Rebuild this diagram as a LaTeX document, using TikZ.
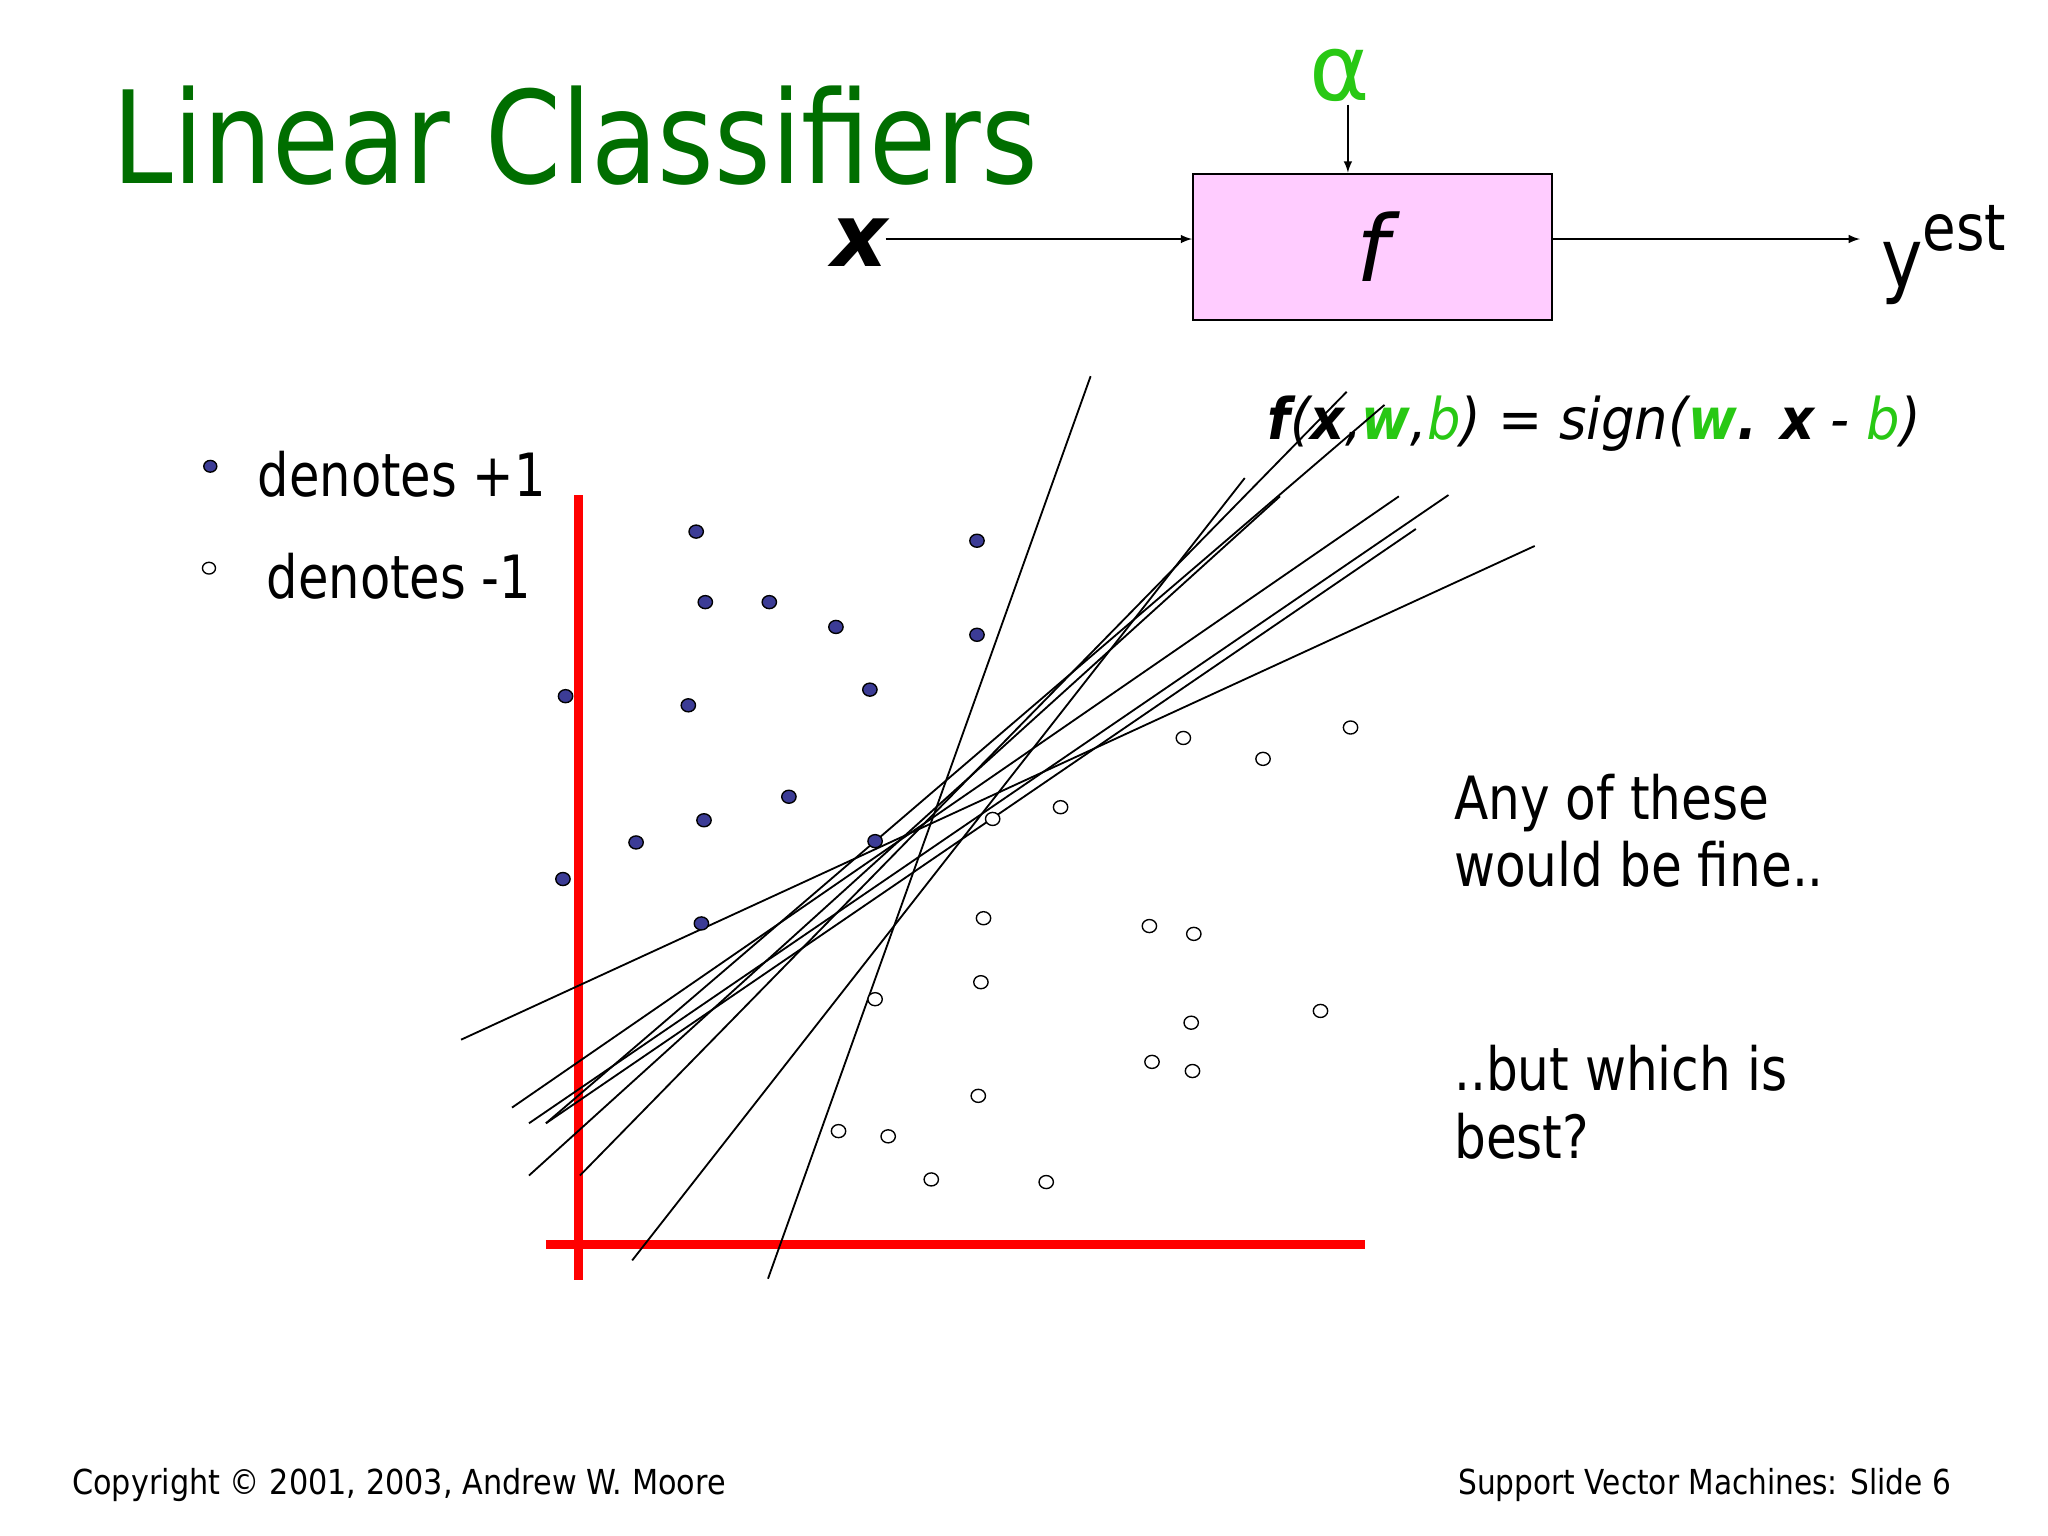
\documentclass[tikz,border=0pt]{standalone}
\usepackage{fontspec}
\setmainfont{DejaVu Sans}
\newcommand{\hsq}[2]{\scalebox{#1}[1]{#2}}
\begin{document}
\begin{tikzpicture}[x=0.02cm,y=-0.02cm,
  pospt/.style={draw=black,fill={rgb,255:red,60;green,60;blue,150},line width=0.6pt},
  negpt/.style={draw=black,fill=white,line width=0.6pt},
  sepline/.style={line width=0.8pt},
  arr/.style={-latex,line width=0.7pt}]
\definecolor{tgreen}{RGB}{0,110,0}
\definecolor{lgreen}{RGB}{40,200,20}
\useasboundingbox (0,0) rectangle (1568,1176);
\node[anchor=west,text=tgreen,font=\fontsize{56}{60}\selectfont,inner sep=0] (title) at (86,104) {\hsq{0.846}{Linear Classifiers}};
\node[draw=black,line width=1pt,fill={rgb,255:red,255;green,204;blue,255},minimum width=5.5cm,minimum height=2.24cm,inner sep=0] (f) at (1051,189) {\fontsize{40}{44}\selectfont\itshape f};
\node[text=lgreen,font=\fontsize{40}{44}\selectfont,inner sep=1pt] (al) at (1026,58) {α};
\node[font=\fontsize{38}{40}\selectfont\bfseries\itshape,inner sep=1pt] (x) at (658,186) {x};
\node[anchor=west,font=\fontsize{36}{40}\selectfont,inner sep=0] (y) at (1440,195) {\hsq{0.85}{y\raisebox{0.45em}{\fontsize{28}{30}\selectfont est}}};
\coordinate (fin) at (f.west|-0,183); \coordinate (fout) at (f.east|-0,183);
\coordinate (xend) at (678,183);
\coordinate (yend) at (1424,183);
\draw[arr] (xend) -- (fin);
\draw[arr] (fout) -- (yend);
\draw[arr] (al.south-|1032,0) -- (f.north-|1032,0);
\node[anchor=west,font=\fontsize{25}{28}\selectfont\itshape,inner sep=0] (eq) at (970,324) {\hsq{0.92}{\textbf{f}(\textbf{x},\textcolor{lgreen}{\textbf{w}},\textcolor{lgreen}{b}) = sign(\textcolor{lgreen}{\textbf{w}}\textbf{.} \textbf{x} - \textcolor{lgreen}{b})}};
% legend
\filldraw[pospt] (161,357) ellipse (5 and 4.5);
\draw[negpt] (160,435) ellipse (5 and 4.5);
\node[anchor=west,font=\fontsize{26}{28}\selectfont,inner sep=0] (l1) at (197,363) {\hsq{0.83}{denotes +1}};
\node[anchor=west,font=\fontsize{26}{28}\selectfont,inner sep=0] (l2) at (204,441) {\hsq{0.83}{denotes -1}};
% axes
\draw[red,line width=4pt] (443,379) -- (443,980);
\draw[red,line width=4pt] (418,953) -- (1045,953);
% lines
\draw[sepline] (835,288) -- (588,979);
\draw[sepline] (953,366) -- (484,965);
\draw[sepline] (1175,418) -- (353,796);
\draw[sepline] (1031,300) -- (444,900);
\draw[sepline] (980,380) -- (405,900);
\draw[sepline] (1060,310) -- (418,860);
\draw[sepline] (1071,380) -- (392,848);
\draw[sepline] (1109,379) -- (405,860);
\draw[sepline] (1084,405) -- (418,860);
% points
\foreach \p in {(533,407),(748,414),(540,461),(589,461),(640,480),(748,486),(433,533),(527,540),(666,528),(604,610),(539,628),(487,645),(670,644),(431,673),(537,707)}
  \filldraw[pospt] \p ellipse (5.5 and 5);
\foreach \p in {(906,565),(967,581),(1034,557),(760,627),(812,618),(753,703),(880,709),(914,715),(751,752),(670,765),(912,783),(1011,774),(882,813),(913,820),(749,839),(642,866),(680,870),(713,903),(801,905)}
  \draw[negpt] \p ellipse (5.5 and 5);
\node[anchor=north west,align=left,font=\fontsize{26}{29.5}\selectfont,inner sep=0] (t1) at (1113,592) {\hsq{0.84}{Any of these}\\\hsq{0.84}{would be fine..}};
\node[anchor=north west,align=left,font=\fontsize{26}{29.5}\selectfont,inner sep=0] (t2) at (1113,800) {\hsq{0.84}{..but which is}\\\hsq{0.84}{best?}};
\node[anchor=west,font=\fontsize{15}{18}\selectfont,inner sep=0] (c1) at (55,1137) {\hsq{0.88}{Copyright \textcopyright{} 2001, 2003, Andrew W. Moore}};
\node[anchor=east,font=\fontsize{15}{18}\selectfont,inner sep=0] (c2) at (1494,1137) {\hsq{0.86}{Support Vector Machines: Slide 6}};
\end{tikzpicture}
\end{document}
